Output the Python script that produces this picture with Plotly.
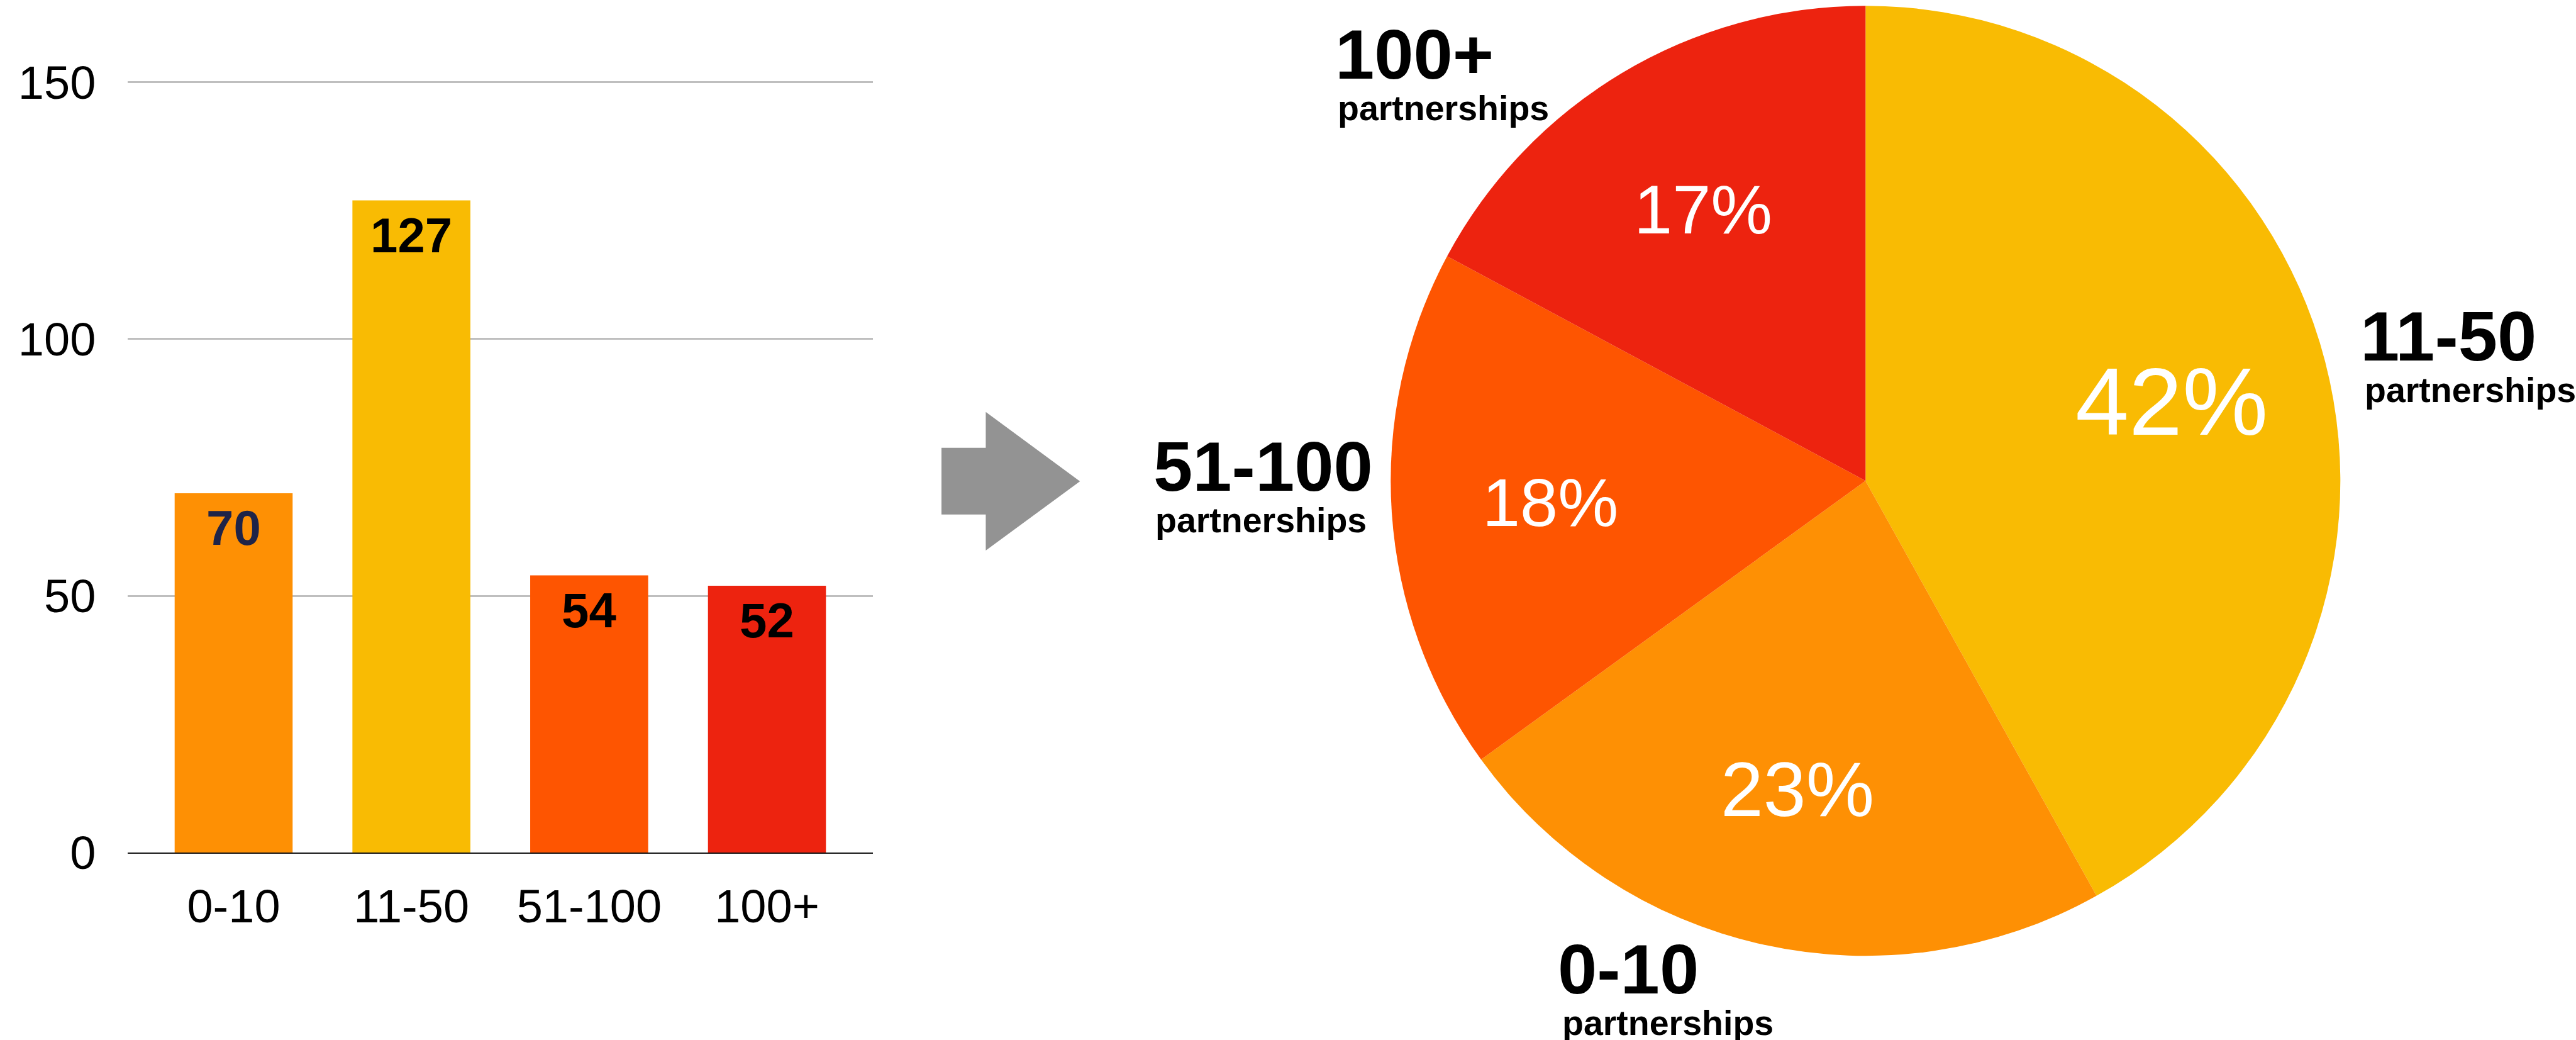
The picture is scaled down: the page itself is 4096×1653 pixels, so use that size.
import math
import plotly.graph_objects as go

# ---- data -------------------------------------------------------------
categories = ["0-10", "11-50", "51-100", "100+"]
counts = [70, 127, 54, 52]
y_ticks = [0, 50, 100, 150]
unit_label = "partnerships"
# clockwise slice order of the pie, starting at 12 o'clock
pie_order = ["11-50", "0-10", "51-100", "100+"]

# ---- styles -----------------------------------------------------------
bar_colors = ["#FE9004", "#F9BB03", "#FE5501", "#ED230F"]
bar_label_colors = ["#1F2448", "#000000", "#000000", "#000000"]
pct_font_sizes = [122, 153, 108, 110]
FONT = "Liberation Sans, Arial, Helvetica, sans-serif"

W, H = 4096, 1653


def px(x):
    return x / W


def py(y):
    return 1 - y / H


fig = go.Figure()

# ---- bar chart --------------------------------------------------------
fig.add_trace(go.Bar(
    x=categories,
    y=counts,
    marker=dict(color=bar_colors, line=dict(width=0)),
    hoverinfo="skip",
    showlegend=False,
    xaxis="x", yaxis="y",
))

# value labels just inside the top of each bar
for cat, v, col in zip(categories, counts, bar_label_colors):
    fig.add_annotation(
        x=cat, y=v, xref="x", yref="y", text=str(v), showarrow=False,
        xanchor="center", yanchor="top", yshift=-9,
        font=dict(family=FONT, size=78, color=col, weight="bold"),
    )

# ---- pie chart --------------------------------------------------------
total = sum(counts)
idx = [categories.index(c) for c in pie_order]
pie_values = [counts[i] for i in idx]
pie_colors = [bar_colors[i] for i in idx]
pie_sizes = [pct_font_sizes[i] for i in idx]

pie_cx, pie_cy, pie_r = 2966.3, 764.2, 755.0
fig.add_trace(go.Pie(
    labels=pie_order,
    values=pie_values,
    marker=dict(colors=pie_colors, line=dict(width=0)),
    sort=False,
    direction="clockwise",
    rotation=0,
    textinfo="none",
    hoverinfo="skip",
    showlegend=False,
    domain=dict(x=[px(pie_cx - pie_r), px(pie_cx + pie_r)],
                y=[py(pie_cy + pie_r), py(pie_cy - pie_r)]),
))

# percentage labels along each slice's mid angle
ang = 0.0
for cat, v, fs in zip(pie_order, pie_values, pie_sizes):
    span = 360 * v / total
    mid = math.radians(ang + span / 2)
    ang += span
    tx = pie_cx + 0.666 * pie_r * math.sin(mid)
    ty = pie_cy - 0.666 * pie_r * math.cos(mid)
    fig.add_annotation(
        x=px(tx), y=py(ty), xref="paper", yref="paper",
        text=f"{round(100 * v / total)}%", showarrow=False,
        xanchor="center", yanchor="middle",
        font=dict(family=FONT, size=fs, color="white"),
    )

# outside category labels: (x big, y big, x small, y small) in pixels
outer_label_pos = {
    "0-10": (2475, 1540, 2482, 1626),
    "11-50": (3751, 534, 3758, 620),
    "51-100": (1832, 741, 1835, 827),
    "100+": (2121, 86, 2125, 172),
}
for cat in categories:
    xb, yb, xs, ys = outer_label_pos[cat]
    fig.add_annotation(
        x=px(xb), y=py(yb), xref="paper", yref="paper", text=cat,
        showarrow=False, xanchor="left", yanchor="middle",
        font=dict(family=FONT, size=112, color="black", weight="bold"),
    )
    fig.add_annotation(
        x=px(xs), y=py(ys), xref="paper", yref="paper", text=unit_label,
        showarrow=False, xanchor="left", yanchor="middle",
        font=dict(family=FONT, size=55.5, color="black", weight="bold"),
    )

# ---- grey arrow between the two charts --------------------------------
arrow_pts = [(1497, 711.8), (1567.4, 711.8), (1567.4, 654.7), (1717.3, 765.1),
             (1567.4, 874.9), (1567.4, 817.8), (1497, 817.8)]
path = "M " + " L ".join(f"{px(x):.5f},{py(y):.5f}" for x, y in arrow_pts) + " Z"
fig.add_shape(type="path", path=path, xref="paper", yref="paper",
              fillcolor="#939393", line=dict(width=0))

# value axis: 0 at y=1355.4 px, 150 at y=130.8 px; range runs a little past
# 150 so the top gridline is kept
y_top_val = 151.0
px_per_unit = (1355.4 - 130.8) / 150
y_top_px = 1355.4 - y_top_val * px_per_unit

fig.update_layout(
    width=W, height=H,
    margin=dict(l=0, r=0, t=0, b=0, autoexpand=False),
    paper_bgcolor="white", plot_bgcolor="white",
    bargap=0.3364,
    xaxis=dict(
        domain=[px(203.3), px(1387.7)],
        range=[-0.595, 3.595],
        showgrid=False, zeroline=False,
        showline=True, linecolor="#1a1a1a", linewidth=2,
        ticks="", ticklabelstandoff=20,
        tickfont=dict(family=FONT, size=74, color="black"),
        automargin=False, fixedrange=True,
    ),
    yaxis=dict(
        domain=[py(1355.4), py(y_top_px)],
        range=[0, y_top_val],
        tickvals=y_ticks,
        showgrid=True, gridcolor="#BFBFBF", gridwidth=2.5,
        zeroline=False, showline=False,
        ticks="", ticklabelstandoff=50,
        tickfont=dict(family=FONT, size=74, color="black"),
        automargin=False, fixedrange=True,
    ),
)

fig.write_html("out.html", config={"displayModeBar": False})
